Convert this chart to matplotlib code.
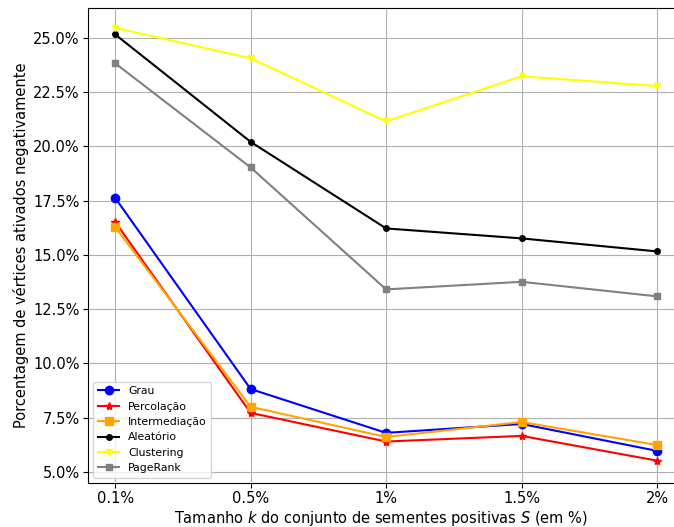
import matplotlib
matplotlib.use("Agg")
import matplotlib.pyplot as plt
from matplotlib.ticker import FuncFormatter

categories = ["0.1%", "0.5%", "1%", "1.5%", "2%"]
grau = [17.63, 8.82, 6.80, 7.21, 5.97]
percolacao = [16.52, 7.72, 6.40, 6.66, 5.52]
intermediacao = [16.29, 8.00, 6.61, 7.30, 6.24]
aleatorio = [25.16, 20.21, 16.22, 15.76, 15.16]
clustering = [25.46, 24.06, 21.15, 23.23, 22.78]
pagerank = [23.83, 19.03, 13.41, 13.76, 13.09]

series = [
    ("Grau", grau, "blue", "o", 6),
    ("Percolação", percolacao, "red", "*", 6),
    ("Intermediação", intermediacao, "orange", "s", 6),
    ("Aleatório", aleatorio, "black", "o", 4),
    ("Clustering", clustering, "yellow", "v", 5),
    ("PageRank", pagerank, "gray", "s", 4),
]

fig = plt.figure(figsize=(6.74, 5.27), dpi=100)
ax = fig.add_axes([0.1306, 0.0835, 0.8694, 0.9015])
x = list(range(len(categories)))
for name, vals, color, marker, ms in series:
    ax.plot(x, vals, color=color, marker=marker, markersize=ms, label=name, linewidth=1.5)

ax.set_xticks(x)
ax.set_xticklabels(categories)
ax.set_xlim(-0.2, 4.125)
ax.set_ylim(4.49, 26.38)
ax.set_yticks([5, 7.5, 10, 12.5, 15, 17.5, 20, 22.5, 25])
ax.yaxis.set_major_formatter(FuncFormatter(lambda v, p: f"{v:.1f}%"))
ax.tick_params(labelsize=10.5, pad=2.5)
ax.grid(True, color="#b0b0b0", linewidth=0.8)
ax.spines["right"].set_visible(False)
ax.set_xlabel("Tamanho $k$ do conjunto de sementes positivas $S$ (em %)", fontsize=10.5, labelpad=2)
ax.set_ylabel("Porcentagem de vértices ativados negativamente", fontsize=10.5, labelpad=3)
ax.legend(loc="lower left", fontsize=7.8)
fig.savefig("out.png", dpi=100)
